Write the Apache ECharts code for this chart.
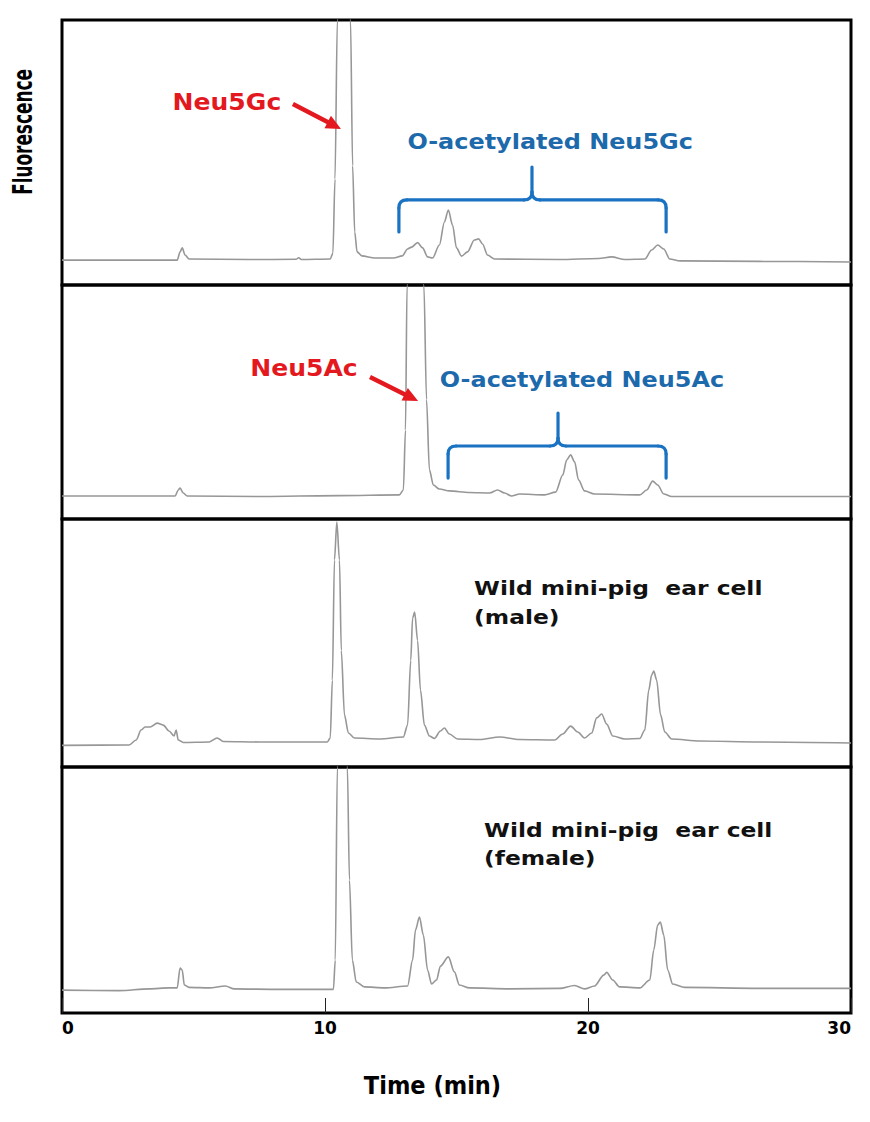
<!DOCTYPE html>
<html>
<head>
<meta charset="utf-8">
<title>Sialic acid HPLC chromatograms</title>
<script src="https://cdn.jsdelivr.net/npm/echarts@6.0.0/dist/echarts.min.js"></script>
<style>
html,body{margin:0;padding:0;background:#ffffff;}
#chart{width:870px;height:1122px;}
</style>
</head>
<body>
<div id="chart"></div>
<script>
// ---------------- data (time in min, relative fluorescence) ----------------
const timeTicks = [0, 10, 20, 30];
const xAxisTitle = 'Time (min)';
const yAxisTitle = 'Fluorescence';

const traceNeu5GcStd = [
  [0,9.4],[3.3,9.4],[4.38,9.4],[4.49,12.5],[4.57,14.0],[4.68,11.3],[4.83,9.8],[7.1,9.6],[8.9,9.7],[9.0,10.3],[9.1,9.6],
  [10.2,9.8],[10.3,12],[10.38,40],[10.47,100],[10.72,125],[10.97,100],[11.05,45],[11.13,20],[11.22,12.5],[11.4,11.0],
  [11.9,10.2],[12.6,10.2],[12.94,11.0],[13.14,13.6],[13.29,14.3],[13.52,16.0],[13.71,14.0],[13.9,10.6],[14.09,10.2],
  [14.35,15.1],[14.54,23.8],[14.69,28.3],[14.85,22.6],[15.0,14.0],[15.19,10.9],[15.42,12.5],[15.68,17.0],[15.84,17.4],
  [15.99,15.5],[16.18,11.3],[16.45,9.8],[18.9,9.6],[20.4,10.0],[20.9,10.6],[21.4,9.6],[22.16,9.8],[22.42,13.2],
  [22.65,15.1],[22.88,13.6],[23.11,9.8],[23.5,9.1],[26.5,8.9],[30,8.7]
];
const traceNeu5AcStd = [
  [0,9.8],[3.3,9.8],[4.3,9.8],[4.42,12.4],[4.49,13.2],[4.61,11.1],[4.76,9.8],[7.5,9.6],[10.55,10.0],[12.83,10.3],
  [12.98,12.4],[13.06,38],[13.12,100],[13.44,136],[13.76,100],[13.86,51],[13.97,21],[14.12,14.5],[14.35,12.8],
  [14.73,12.0],[15.49,11.3],[16.26,11.1],[16.56,12.4],[16.83,11.1],[17.09,9.8],[17.4,10.7],[18.35,10.3],[18.77,11.5],
  [19.04,18.8],[19.19,25.2],[19.34,27.4],[19.49,24.4],[19.64,16.7],[19.87,12.0],[20.25,10.7],[21.97,10.3],[22.23,12.4],
  [22.46,16.2],[22.65,14.5],[22.88,10.7],[23.18,9.6],[26.5,9.6],[30,9.6]
];
const traceMale = [
  [0,8.7],[2.55,8.9],[2.82,10.9],[3.01,14.9],[3.16,16.1],[3.35,16.1],[3.62,17.7],[3.85,16.9],[4.07,14.5],[4.26,12.5],
  [4.34,14.9],[4.42,10.9],[4.61,9.9],[5.6,10.1],[5.9,11.7],[6.13,10.3],[7.5,10.1],[10.09,10.1],[10.2,11.7],[10.28,35],
  [10.36,83.5],[10.45,98.8],[10.55,83.5],[10.62,47],[10.74,21],[10.89,13.7],[11.12,11.7],[12.07,11.3],[12.98,12.1],
  [13.14,16.9],[13.26,43],[13.33,60],[13.41,62.5],[13.52,51],[13.63,31],[13.78,16.9],[13.97,12.5],[14.16,11.5],
  [14.39,14.5],[14.54,15.7],[14.73,13.3],[15.04,11.3],[15.88,11.1],[16.64,12.1],[17.4,11.1],[18.73,10.9],[19.04,13.3],
  [19.34,16.5],[19.61,14.1],[19.87,11.7],[20.14,13.7],[20.33,19.8],[20.52,21.4],[20.71,17.3],[20.94,12.5],[21.4,11.3],
  [21.97,11.5],[22.16,14.9],[22.31,31],[22.42,37.1],[22.5,38.7],[22.61,35.1],[22.76,21],[22.92,14.1],[23.18,11.3],
  [24.25,10.5],[26.5,10.1],[30,9.7]
];
const traceFemale = [
  [0,9.3],[2.17,9.1],[3.31,9.8],[4.07,10.2],[4.38,10.2],[4.49,18.3],[4.57,17.5],[4.65,11.4],[4.83,10.4],[5.6,10.2],
  [6.21,11.0],[6.55,9.8],[8.26,9.6],[10.32,9.6],[10.39,21.5],[10.47,100],[10.66,127],[10.85,100],[10.93,54],[11.04,21.5],
  [11.19,12.6],[11.5,10.6],[12.26,10.2],[13.14,11.0],[13.33,21.5],[13.44,33.7],[13.59,39],[13.74,31.7],[13.9,17.5],
  [14.05,11.8],[14.24,13.4],[14.39,19.1],[14.69,22.8],[14.92,16.7],[15.11,11.4],[15.49,10.2],[17.02,9.8],[18.92,10.0],
  [19.49,11.2],[19.87,9.8],[20.25,11.0],[20.6,15.4],[20.71,16.5],[20.94,13.4],[21.2,10.6],[21.97,10.2],[22.35,13.4],
  [22.5,25.6],[22.65,35.8],[22.75,37],[22.88,31.7],[23.03,17.5],[23.22,11.8],[23.68,10.4],[26.5,10.0],[30,10.0]
];
const traces = [traceNeu5GcStd, traceNeu5AcStd, traceMale, traceFemale];
const traceNames = ['Neu5Gc standard', 'Neu5Ac standard', 'Wild mini-pig ear cell (male)', 'Wild mini-pig ear cell (female)'];

// ---------------- annotations (data coordinates of each panel) ----------------
const textLabels = [
  {panel:0, t:6.27,  v:69.1, text:'Neu5Gc', kind:'red'},
  {panel:0, t:18.56, v:54.0, text:'O-acetylated Neu5Gc', kind:'blue'},
  {panel:1, t:9.2,   v:64.5, text:'Neu5Ac', kind:'red'},
  {panel:1, t:19.77, v:59.4, text:'O-acetylated Neu5Ac', kind:'blue'},
  {panel:2, t:15.67, v:72.2, text:'Wild mini-pig\u00a0 ear cell', kind:'black'},
  {panel:2, t:15.67, v:60.5, text:'(male)', kind:'black'},
  {panel:3, t:16.05, v:74.4, text:'Wild mini-pig\u00a0 ear cell', kind:'black'},
  {panel:3, t:16.05, v:63.0, text:'(female)', kind:'black'}
];
const arrows = [
  {panel:0, from:[8.78,68.3], to:[10.61,58.9]},
  {panel:1, from:[11.71,60.7], to:[13.54,50.4]}
];
const brackets = [
  {panel:0, t0:12.81, t1:22.97, tm:17.87, vh:32.1, vb:20, vs:44.5},
  {panel:1, t0:14.68, t1:22.97, tm:18.86, vh:31.2, vb:17.5, vs:45.3}
];

// ---------------- styles / layout ----------------
const RED = '#e3191f';
const BLUE_TEXT = '#1c69ab';
const BLUE_LINE = '#1a72c2';
const TRACE = '#979797';
const textStyles = {
  red:   {fill:RED,       fontSize:23, sx:1.09, align:'center'},
  blue:  {fill:BLUE_TEXT, fontSize:21, sx:1.14, align:'center'},
  black: {fill:'#111111', fontSize:20, sx:1.17, align:'left'}
};
const panelRects = [
  {top:20,  height:265},
  {top:285, height:234},
  {top:519, height:248},
  {top:767, height:246}
];

const chart = echarts.init(document.getElementById('chart'), null, {renderer:'svg'});

const grids = panelRects.map(r => ({
  left:62, width:789, top:r.top, height:r.height,
  show:true, borderColor:'#000000', borderWidth:3, backgroundColor:'rgba(0,0,0,0)', containLabel:false
}));
const last = panelRects.length - 1;
const xAxes = panelRects.map((r, i) => {
  const base = {gridIndex:i, type:'value', min:timeTicks[0], max:timeTicks[timeTicks.length-1],
    interval:timeTicks[1]-timeTicks[0], splitLine:{show:false}};
  if (i !== last) return Object.assign(base, {show:false});
  return Object.assign(base, {
    axisLine:{show:false},
    axisTick:{show:true, inside:true, length:15, lineStyle:{color:'#222222', width:1}},
    axisLabel:{show:true, margin:6, color:'#000', fontSize:17, fontWeight:'bold', fontFamily:'"DejaVu Sans", sans-serif',
      showMinLabel:true, showMaxLabel:true, alignMinLabel:'left', alignMaxLabel:'right',
      formatter: v => timeTicks.includes(v) ? String(v) : ''},
    name:xAxisTitle, nameLocation:'middle', nameGap:60,
    nameTextStyle:{color:'#000', fontSize:25, fontWeight:'bold', fontFamily:'"DejaVu Sans Condensed", "DejaVu Sans", sans-serif', padding:[0,48,0,0]}
  });
});
const yAxes = panelRects.map((r, i) => ({gridIndex:i, type:'value', min:0, max:100, show:false}));
const series = traces.map((d, i) => ({
  name:traceNames[i], type:'line', xAxisIndex:i, yAxisIndex:i, data:d,
  showSymbol:false, symbol:'none', smooth:0.3, smoothMonotone:'x', clip:true, silent:true,
  lineStyle:{color:TRACE, width:1.6}
}));

chart.setOption({
  animation:false,
  backgroundColor:'#ffffff',
  grid:grids, xAxis:xAxes, yAxis:yAxes, series:series
});

// ---------------- annotation graphics ----------------
const toPx = (p, t, v) => chart.convertToPixel({seriesIndex:p}, [t, v]);
const els = [];

els.push({type:'text', x:23, y:132, rotation:Math.PI/2, scaleX:0.65, silent:true, z:10,
  style:{text:yAxisTitle, fill:'#000', fontSize:26, fontWeight:'bold', fontFamily:'"DejaVu Sans", sans-serif',
         align:'center', verticalAlign:'middle'}});

textLabels.forEach(l => {
  const s = textStyles[l.kind];
  const [x, y] = toPx(l.panel, l.t, l.v);
  els.push({type:'text', x:x, y:y, scaleX:s.sx, silent:true, z:10,
    style:{text:l.text, fill:s.fill, fontSize:s.fontSize, fontWeight:'bold', fontFamily:'"DejaVu Sans", sans-serif',
           align:s.align, verticalAlign:'middle'}});
});

arrows.forEach(a => {
  const [xa, ya] = toPx(a.panel, a.from[0], a.from[1]);
  const [xb, yb] = toPx(a.panel, a.to[0], a.to[1]);
  const dx = xb - xa, dy = yb - ya, L = Math.hypot(dx, dy), ux = dx / L, uy = dy / L;
  const hl = 15, hw = 7;
  const bx = xb - ux * hl, by = yb - uy * hl;
  els.push({type:'line', silent:true, z:10, shape:{x1:xa, y1:ya, x2:bx + ux * 2, y2:by + uy * 2},
    style:{stroke:RED, lineWidth:4.5}});
  els.push({type:'polygon', silent:true, z:10,
    shape:{points:[[xb, yb], [bx - uy * hw, by + ux * hw], [bx + uy * hw, by - ux * hw]]},
    style:{fill:RED}});
});

const bracketStyle = {stroke:BLUE_LINE, lineWidth:3.2, fill:null, lineCap:'round', lineJoin:'round'};
brackets.forEach(b => {
  const [x0, yb] = toPx(b.panel, b.t0, b.vb);
  const x1 = toPx(b.panel, b.t1, b.vb)[0];
  const [xm, yh] = toPx(b.panel, b.tm, b.vh);
  const ys = toPx(b.panel, b.tm, b.vs)[1];
  const r = 8;
  const seg = (pts) => els.push({type:'polyline', silent:true, z:10, shape:{points:pts}, style:Object.assign({}, bracketStyle)});
  const curve = (xs, ys0, cx, cy, xe, ye) => els.push({type:'bezierCurve', silent:true, z:10,
    shape:{x1:xs, y1:ys0, cpx1:cx, cpy1:cy, x2:xe, y2:ye}, style:Object.assign({}, bracketStyle)});
  seg([[x0, yb], [x0, yh + r]]);
  curve(x0, yh + r, x0, yh, x0 + r, yh);
  seg([[x0 + r, yh], [xm - r, yh]]);
  curve(xm - r, yh, xm, yh, xm, yh - r);
  seg([[xm, yh - r], [xm, ys]]);
  curve(xm, yh - r, xm, yh, xm + r, yh);
  seg([[xm + r, yh], [x1 - r, yh]]);
  curve(x1 - r, yh, x1, yh, x1, yh + r);
  seg([[x1, yh + r], [x1, yb]]);
});

chart.setOption({graphic:{elements:els}});
</script>
</body>
</html>
